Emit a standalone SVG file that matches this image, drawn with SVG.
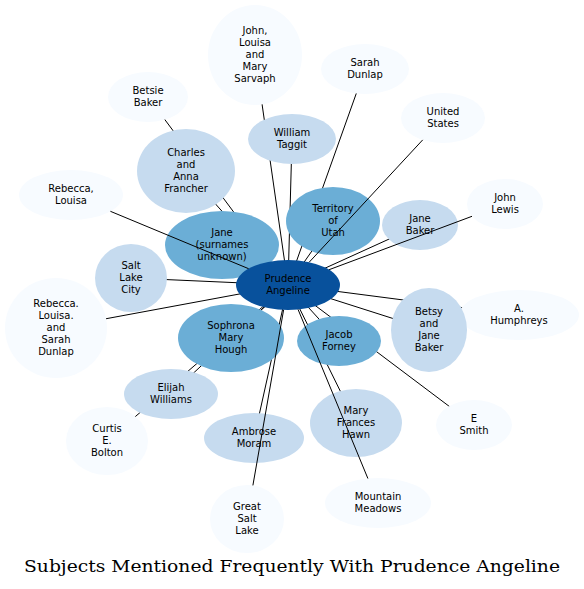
<svg xmlns="http://www.w3.org/2000/svg" width="584" height="589" viewBox="0 0 584 589">
<style>
.e{stroke:#000;stroke-width:1;fill:none}
.c0{fill:#f7fbff}
.c2{fill:#c6dbef}
.c3{fill:#6baed6}
.c7{fill:#08519c}
text{font-family:"DejaVu Sans",sans-serif;font-size:10px;fill:#000;text-anchor:middle}
.title{font-family:"DejaVu Serif","Liberation Serif",serif;font-size:16.5px}
</style>
<rect width="584" height="589" fill="#fff"/>
<g id="edges-behind">
<line class="e" x1="255" y1="55" x2="288" y2="285"/>
<line class="e" x1="365" y1="69" x2="288" y2="285"/>
<line class="e" x1="420" y1="225" x2="288" y2="285"/>
<line class="e" x1="333" y1="221" x2="288" y2="285"/>
<line class="e" x1="292" y1="139" x2="288" y2="285"/>
<line class="e" x1="148" y1="97" x2="288" y2="285"/>
<line class="e" x1="186" y1="171" x2="288" y2="285"/>
<line class="e" x1="222" y1="245" x2="288" y2="285"/>
<line class="e" x1="131" y1="278" x2="288" y2="285"/>
<line class="e" x1="56" y1="328" x2="288" y2="285"/>
<line class="e" x1="231" y1="338" x2="288" y2="285"/>
<line class="e" x1="171" y1="394" x2="288" y2="285"/>
<line class="e" x1="107" y1="441" x2="288" y2="285"/>
<line class="e" x1="254" y1="438" x2="288" y2="285"/>
<line class="e" x1="339" y1="341" x2="288" y2="285"/>
<line class="e" x1="429" y1="330" x2="288" y2="285"/>
<line class="e" x1="519" y1="315" x2="288" y2="285"/>
<line class="e" x1="356" y1="423" x2="288" y2="285"/>
<line class="e" x1="474" y1="425" x2="288" y2="285"/>
</g>
<g id="n1"><ellipse class="c0" cx="255" cy="55" rx="47" ry="50"/><text x="255"><tspan x="255" y="34">John,</tspan><tspan x="255" y="46">Louisa</tspan><tspan x="255" y="58">and</tspan><tspan x="255" y="70">Mary</tspan><tspan x="255" y="82">Sarvaph</tspan></text></g>
<g id="n2"><ellipse class="c0" cx="365" cy="69" rx="44" ry="25"/><text><tspan x="365" y="66">Sarah</tspan><tspan x="365" y="78">Dunlap</tspan></text></g>
<g id="n3"><ellipse class="c0" cx="443" cy="118" rx="42" ry="25"/><text><tspan x="443" y="115">United</tspan><tspan x="443" y="127">States</tspan></text></g>
<g id="n4"><ellipse class="c0" cx="505" cy="204" rx="38" ry="25"/><text><tspan x="505" y="201">John</tspan><tspan x="505" y="213">Lewis</tspan></text></g>
<g id="n5"><ellipse class="c2" cx="420" cy="225" rx="38" ry="25"/><text><tspan x="420" y="222">Jane</tspan><tspan x="420" y="234">Baker</tspan></text></g>
<g id="n6"><ellipse class="c3" cx="333" cy="221" rx="47" ry="34"/><text><tspan x="333" y="212">Territory</tspan><tspan x="333" y="224">of</tspan><tspan x="333" y="236">Utah</tspan></text></g>
<g id="n7"><ellipse class="c2" cx="292" cy="139" rx="44" ry="25"/><text><tspan x="292" y="136">William</tspan><tspan x="292" y="148">Taggit</tspan></text></g>
<g id="n8"><ellipse class="c0" cx="148" cy="97" rx="40" ry="25"/><text><tspan x="148" y="94">Betsie</tspan><tspan x="148" y="106">Baker</tspan></text></g>
<g id="n9"><ellipse class="c2" cx="186" cy="171" rx="49" ry="42"/><text><tspan x="186" y="156">Charles</tspan><tspan x="186" y="168">and</tspan><tspan x="186" y="180">Anna</tspan><tspan x="186" y="192">Francher</tspan></text></g>
<g id="n10"><ellipse class="c0" cx="71" cy="195" rx="52" ry="25"/><text><tspan x="71" y="192">Rebecca,</tspan><tspan x="71" y="204">Louisa</tspan></text></g>
<g id="n11"><ellipse class="c3" cx="222" cy="245" rx="57" ry="34"/><text><tspan x="222" y="236">Jane</tspan><tspan x="222" y="248">(surnames</tspan><tspan x="222" y="260">unknown)</tspan></text></g>
<g id="n12"><ellipse class="c2" cx="131" cy="278" rx="36" ry="34"/><text><tspan x="131" y="269">Salt</tspan><tspan x="131" y="281">Lake</tspan><tspan x="131" y="293">City</tspan></text></g>
<g id="n13"><ellipse class="c0" cx="56" cy="328" rx="51" ry="50"/><text><tspan x="56" y="307">Rebecca.</tspan><tspan x="56" y="319">Louisa.</tspan><tspan x="56" y="331">and</tspan><tspan x="56" y="343">Sarah</tspan><tspan x="56" y="355">Dunlap</tspan></text></g>
<g id="n14"><ellipse class="c3" cx="231" cy="338" rx="53" ry="34"/><text><tspan x="231" y="329">Sophrona</tspan><tspan x="231" y="341">Mary</tspan><tspan x="231" y="353">Hough</tspan></text></g>
<g id="n15"><ellipse class="c2" cx="171" cy="394" rx="47" ry="25"/><text><tspan x="171" y="391">Elijah</tspan><tspan x="171" y="403">Williams</tspan></text></g>
<g id="n16"><ellipse class="c0" cx="107" cy="441" rx="41" ry="34"/><text><tspan x="107" y="432">Curtis</tspan><tspan x="107" y="444">E.</tspan><tspan x="107" y="456">Bolton</tspan></text></g>
<g id="n17"><ellipse class="c2" cx="254" cy="438" rx="50" ry="25"/><text><tspan x="254" y="435">Ambrose</tspan><tspan x="254" y="447">Moram</tspan></text></g>
<g id="n18"><ellipse class="c0" cx="247" cy="519" rx="37" ry="34"/><text><tspan x="247" y="510">Great</tspan><tspan x="247" y="522">Salt</tspan><tspan x="247" y="534">Lake</tspan></text></g>
<g id="n19"><ellipse class="c3" cx="339" cy="341" rx="42" ry="25"/><text><tspan x="339" y="338">Jacob</tspan><tspan x="339" y="350">Forney</tspan></text></g>
<g id="n21"><ellipse class="c0" cx="519" cy="315" rx="60" ry="25"/><text><tspan x="519" y="312">A.</tspan><tspan x="519" y="324">Humphreys</tspan></text></g>
<g id="n20"><ellipse class="c2" cx="429" cy="330" rx="38" ry="42"/><text><tspan x="429" y="315">Betsy</tspan><tspan x="429" y="327">and</tspan><tspan x="429" y="339">Jane</tspan><tspan x="429" y="351">Baker</tspan></text></g>
<g id="n22"><ellipse class="c2" cx="356" cy="423" rx="46" ry="34"/><text><tspan x="356" y="414">Mary</tspan><tspan x="356" y="426">Frances</tspan><tspan x="356" y="438">Hawn</tspan></text></g>
<g id="n23"><ellipse class="c0" cx="474" cy="425" rx="38" ry="25"/><text><tspan x="474" y="422">E</tspan><tspan x="474" y="434">Smith</tspan></text></g>
<g id="n24"><ellipse class="c0" cx="378" cy="503" rx="53" ry="25"/><text><tspan x="378" y="500">Mountain</tspan><tspan x="378" y="512">Meadows</tspan></text></g>
<g id="n0"><ellipse class="c7" cx="288" cy="285" rx="52" ry="25"/><text><tspan x="288" y="282">Prudence</tspan><tspan x="288" y="294">Angeline</tspan></text></g>
<g id="edges-front">
<line class="e" x1="110.4" y1="211.3" x2="248.6" y2="268.7"/>
<line class="e" x1="422.7" y1="139.9" x2="309.2" y2="262.2"/>
<line class="e" x1="472" y1="216.3" x2="329.1" y2="269.7"/>
<line class="e" x1="367.9" y1="478.5" x2="298.1" y2="309.5"/>
<line class="e" x1="252.9" y1="485.4" x2="283.6" y2="309.9"/>
</g>
<text class="title" x="292" y="572" textLength="536" lengthAdjust="spacingAndGlyphs">Subjects Mentioned Frequently With Prudence Angeline</text>
</svg>
